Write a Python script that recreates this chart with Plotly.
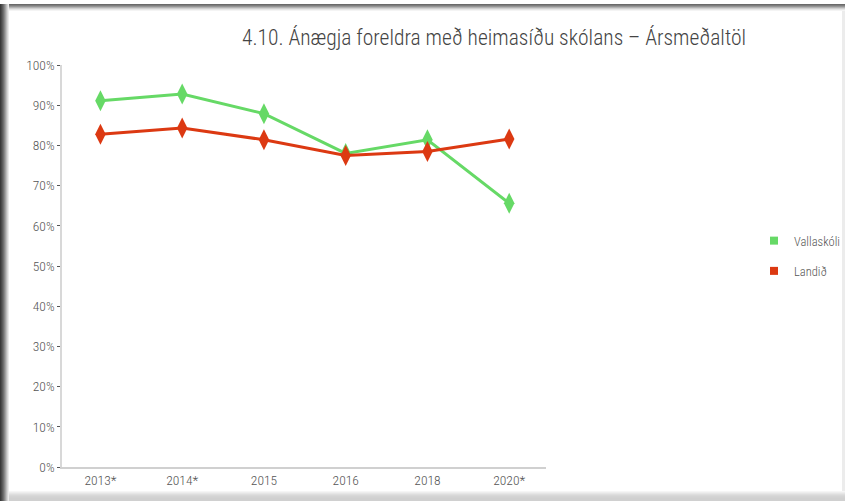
import plotly.graph_objects as go

title_text = "4.10. Ánægja foreldra með heimasíðu skólans – Ársmeðaltöl"
categories = ["2013*", "2014*", "2015", "2016", "2018", "2020*"]
vallaskoli = [0.911, 0.928, 0.879, 0.780, 0.814, 0.656]
landid = [0.828, 0.843, 0.814, 0.775, 0.785, 0.816]
series_names = ["Vallaskóli", "Landið"]
series_colors = ["#66D966", "#DC3912"]
y_ticks = [i / 10 for i in range(11)]

FONT = "Roboto Condensed, Liberation Sans Narrow, Arial Narrow, Roboto, sans-serif"

W, H = 845, 501
X0, X1, Y0, Y1 = 62, 546, 65, 467  # plot area in pixels


def px(xp):
    return xp / W


def py(yp):
    return 1 - yp / H


fig = go.Figure()
for name, vals, col in zip(series_names, [vallaskoli, landid], series_colors):
    fig.add_trace(go.Scatter(
        x=categories, y=vals, mode="lines+markers", name=name,
        line=dict(color=col, width=3),
        marker=dict(symbol="diamond-tall", size=15, color=col),
        showlegend=False,
    ))
for name, col in zip(series_names, series_colors):
    fig.add_trace(go.Scatter(
        x=[None], y=[None], mode="markers", name=name, legendgroup=name,
        marker=dict(symbol="square", size=8, color=col),
    ))

shapes = []
# left dark gradient
for i, c in enumerate(["#3a3a3a", "#4a4a4a", "#5c5c5c", "#707070", "#888888",
                       "#a2a2a2", "#bdbdbd", "#d6d6d6", "#ebebeb"]):
    shapes.append(dict(type="rect", xref="paper", yref="paper", x0=px(i), x1=px(i + 1),
                       y0=py(4), y1=py(H), fillcolor=c, line=dict(width=0), layer="above"))
# top gradient
for i, c in enumerate(["#6a6a6a", "#7d7d7d", "#959595", "#b3b3b3", "#d0d0d0",
                       "#e6e6e6", "#f4f4f4"]):
    shapes.append(dict(type="rect", xref="paper", yref="paper", x0=px(9), x1=px(W),
                       y0=py(4 + i), y1=py(5 + i), fillcolor=c, line=dict(width=0), layer="above"))
# bottom gray band
for i, c in enumerate(["#f6f6f6", "#eeeeee", "#e6e6e6", "#dedede", "#d8d8d8",
                       "#d4d4d4", "#d2d2d2", "#d0d0d0", "#d0d0d0", "#d0d0d0"]):
    shapes.append(dict(type="rect", xref="paper", yref="paper", x0=px(9), x1=px(W),
                       y0=py(491 + i), y1=py(492 + i), fillcolor=c, line=dict(width=0), layer="above"))
# right faint edge
shapes.append(dict(type="rect", xref="paper", yref="paper", x0=px(842), x1=px(W),
                   y0=py(11), y1=py(491), fillcolor="#ececec", line=dict(width=0), layer="above"))

TICKFONT = dict(family=FONT, size=13.5, color="#555555", weight=300)

fig.update_layout(
    width=W, height=H,
    margin=dict(l=0, r=0, t=0, b=0, autoexpand=False),
    paper_bgcolor="white", plot_bgcolor="white",
    font=dict(family=FONT, color="#555555", size=12),
    title=dict(text=title_text, x=px(494), xanchor="center", xref="paper",
               y=py(37), yanchor="middle", yref="paper",
               font=dict(family=FONT, size=21.5, color="#444444", weight=300)),
    xaxis=dict(type="category", range=[-0.47, 5.45], domain=[px(X0), px(X1)],
               showgrid=False, zeroline=False, automargin=False,
               showline=True, linecolor="#d0d0d0", linewidth=1.5, ticks="",
               tickfont=TICKFONT),
    yaxis=dict(range=[0, 1], domain=[py(Y1), py(Y0)], tickvals=y_ticks, tickformat=".0%",
               showgrid=False, automargin=False,
               zeroline=False, showline=True, linecolor="#d8d8d8", linewidth=1.5,
               ticks="outside", ticklen=3, tickcolor="#555555", tickwidth=1,
               tickfont=TICKFONT),
    legend=dict(x=px(754), y=py(226), xanchor="left", yanchor="top",
                font=dict(family=FONT, size=12.5, color="#555555", weight=300),
                tracegroupgap=11, itemwidth=30, bgcolor="rgba(0,0,0,0)"),
    shapes=shapes,
)

fig.write_html("out.html", config={"displayModeBar": False},
               post_script="document.body.style.margin='0';document.body.style.overflow='hidden';")
